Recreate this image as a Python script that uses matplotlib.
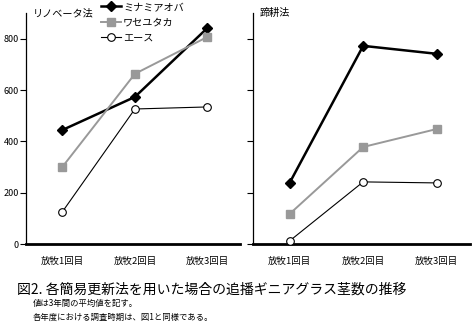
import numpy as np
import matplotlib.pyplot as plt

plt.rcParams['font.family'] = ['Noto Sans CJK JP', 'DejaVu Sans']

# 調査時期
periods = ["放牧1回目", "放牧2回目", "放牧3回目"]
cultivars = ["ミナミアオバ", "ワセユタカ", "エース"]

# リノベータ法 (本/m2)
renovator_minami = [444, 573, 842]
renovator_wase = [300, 663, 807]
renovator_ace = [125, 526, 534]

# 蹄耕法 (本/m2)
hoof_minami = [238, 772, 741]
hoof_wase = [117, 378, 448]
hoof_ace = [12, 242, 238]

styles = [
    dict(color="black", lw=1.8, marker="D", ms=5, mfc="black", mec="black"),
    dict(color="#999999", lw=1.4, marker="s", ms=6, mfc="#999999", mec="#999999"),
    dict(color="black", lw=0.8, marker="o", ms=5.5, mfc="white", mec="black", mew=0.8),
]

fig = plt.figure(figsize=(4.77, 3.30), dpi=100)
ax1 = fig.add_axes([0.0545, 0.2606, 0.449, 0.70])
ax2 = fig.add_axes([0.530, 0.2606, 0.455, 0.70])

x = np.arange(len(periods))
panels = [
    (ax1, "リノベータ法", [renovator_minami, renovator_wase, renovator_ace]),
    (ax2, "蹄耕法", [hoof_minami, hoof_wase, hoof_ace]),
]

for ax, name, series in panels:
    for label, vals, st in zip(cultivars, series, styles):
        ax.plot(x, vals, label=label, clip_on=False, zorder=3, **st)
    ax.set_xlim(-0.5, 2.45)
    ax.set_ylim(0, 900)
    ax.set_yticks([0, 200, 400, 600, 800])
    ax.set_xticks(x)
    ax.set_xticklabels(periods, fontsize=6.8)
    ax.tick_params(axis="x", length=0, pad=9)
    ax.tick_params(axis="y", length=4, width=0.8, labelsize=6.5, pad=1, direction="out")
    ax.spines["top"].set_visible(False)
    ax.spines["right"].set_visible(False)
    ax.spines["left"].set_linewidth(0.9)
    ax.spines["bottom"].set_linewidth(2.0)
    ax.text(0.03, 1.0, name, transform=ax.transAxes, fontsize=7.3, va="center", ha="left")

ax2.set_yticklabels([])

leg = ax1.legend(loc="upper left", bbox_to_anchor=(0.33, 1.065), frameon=False,
                 fontsize=7.3, handlelength=2.0, handletextpad=0.2,
                 labelspacing=0.5, borderaxespad=0)

fig.text(0.035, 0.123, "図2. 各簡易更新法を用いた場合の追播ギニアグラス茎数の推移",
         fontsize=10, va="center", ha="left")
fig.text(0.069, 0.08, "値は3年間の平均値を記す。", fontsize=6, va="center", ha="left")
fig.text(0.069, 0.037, "各年度における調査時期は、図1と同様である。", fontsize=6,
         va="center", ha="left")

fig.savefig("out.png", dpi=100)
